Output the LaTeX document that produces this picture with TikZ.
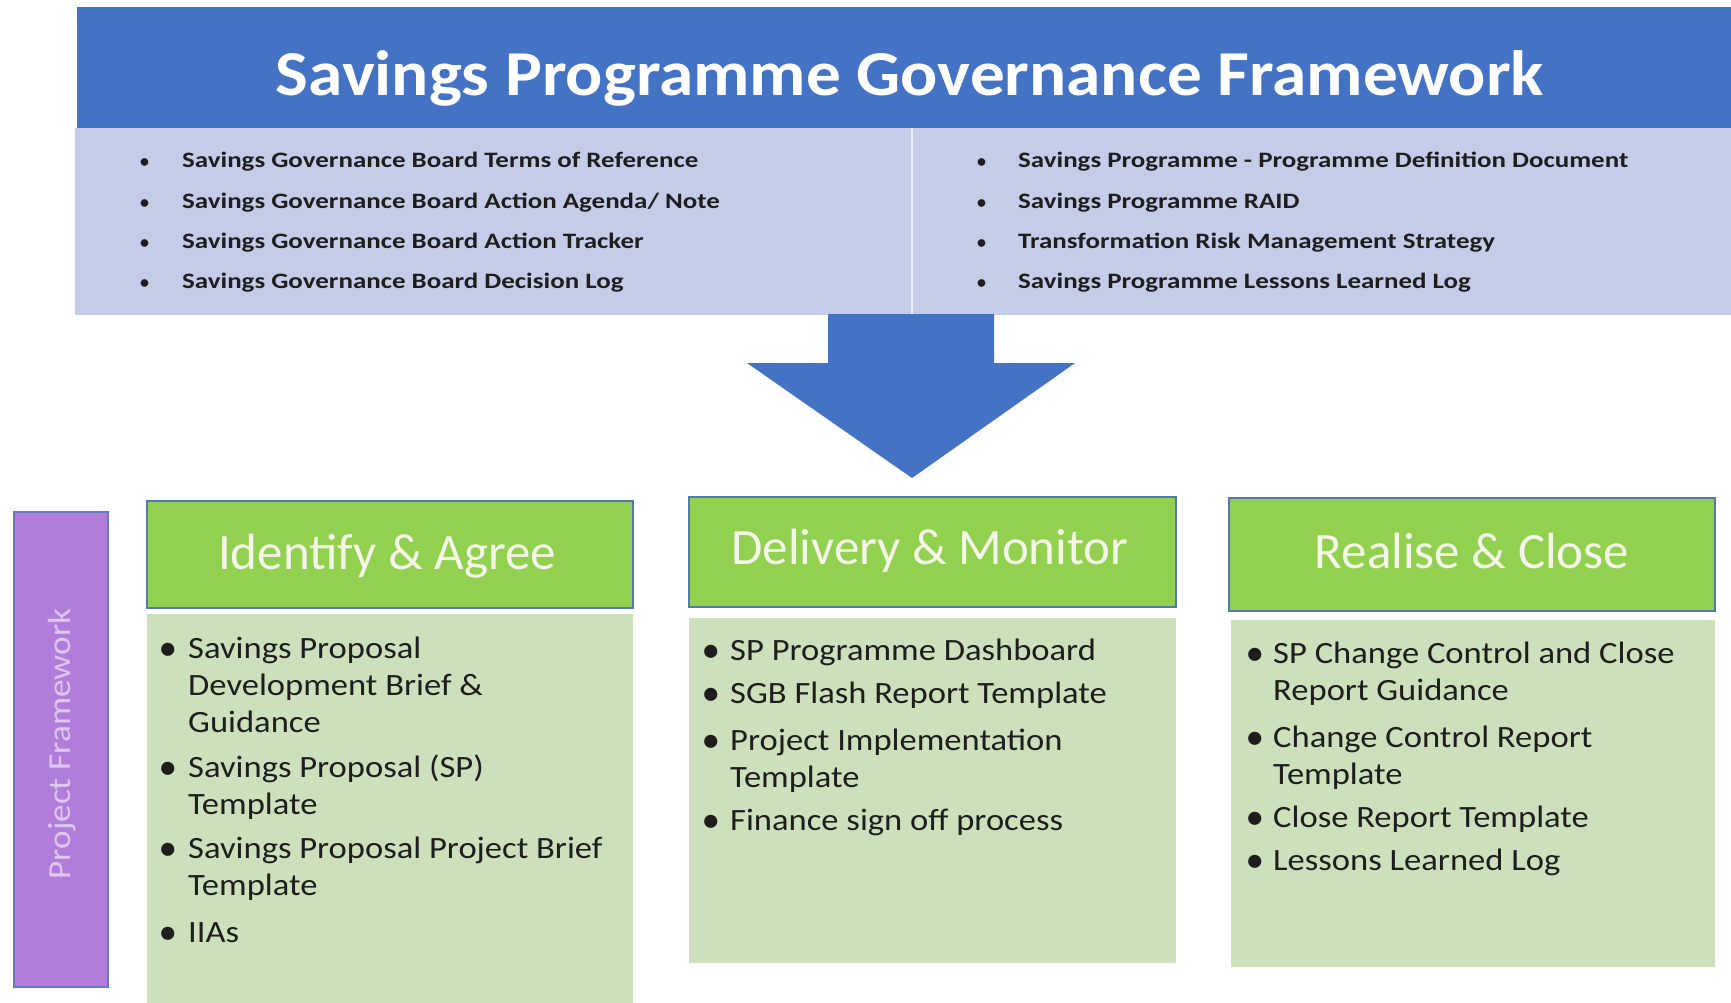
\documentclass[tikz,border=0pt]{standalone}
\usepackage{fontspec}
\setmainfont{Carlito}
\usepackage{graphicx}
\definecolor{barblue}{RGB}{68,114,196}
\definecolor{panel}{RGB}{196,204,232}
\definecolor{hdrgreen}{RGB}{146,208,80}
\definecolor{bodygreen}{RGB}{204,225,187}
\definecolor{edgeblue}{RGB}{84,120,176}
\definecolor{purplefill}{RGB}{176,126,218}
\definecolor{purpletext}{RGB}{222,200,242}
\definecolor{hdrtext}{RGB}{244,247,232}
\definecolor{txtdark}{RGB}{30,30,30}
\newcommand\sxb[2]{\scalebox{#1}[1]{#2}}
\newcommand\topitem[5]{%
  \node[topbul] (#1b) at (#2,#4) {•};
  \node[toptxt] (#1) at (#3,#4) {\sxb{1.225}{#5}};}
\newcommand\bodyitem[5]{%
  \node[bodybul] (#1b) at (#2,#4) {•};
  \node[bodytxt] (#1) at (#3,#4) {\sxb{1.115}{\parbox[t]{420pt}{\raggedright #5}}};}
\begin{document}
\begin{tikzpicture}[x=1pt,y=-1pt,
  topbul/.style={anchor=base west,inner sep=0pt,font=\fontsize{18}{22}\selectfont\bfseries,text=txtdark},
  toptxt/.style={anchor=base west,inner sep=0pt,font=\fontsize{22}{26}\selectfont\bfseries,text=txtdark},
  bodybul/.style={anchor=base west,inner sep=0pt,font=\fontsize{31}{37}\selectfont\bfseries,text=txtdark},
  bodytxt/.style={anchor=base west,inner sep=0pt,font=\fontsize{31}{37}\selectfont,text=txtdark},
  hdrbox/.style={fill=hdrgreen,draw=edgeblue,line width=2pt},
  hdrtxt/.style={anchor=base,inner sep=0pt,font=\fontsize{51}{60}\selectfont,text=hdrtext},
  bodybox/.style={fill=bodygreen}]
\useasboundingbox (0,0) rectangle (1731,1003);
\fill[white] (0,0) rectangle (1731,1003);
% title bar and panel
\fill[barblue] (77,7) rectangle (1731,128);
\fill[panel] (75,128) rectangle (1731,315);
\draw[white!70!panel,line width=2pt] (912,128) -- (912,315);
\node[anchor=base,inner sep=0pt,text=white,font=\fontsize{64}{72}\selectfont\bfseries] (title) at (910,96)
  {\sxb{1.083}{Savings Programme Governance Framework}};
% top lists
\topitem{l1}{140}{182}{168}{Savings Governance Board Terms of Reference}
\topitem{l2}{140}{182}{208}{Savings Governance Board Action Agenda/ Note}
\topitem{l3}{140}{182}{248}{Savings Governance Board Action Tracker}
\topitem{l4}{140}{182}{288}{Savings Governance Board Decision Log}
\topitem{r1}{977}{1018}{168}{Savings Programme - Programme Definition Document}
\topitem{r2}{977}{1018}{208}{Savings Programme RAID}
\topitem{r3}{977}{1018}{248}{Transformation Risk Management Strategy}
\topitem{r4}{977}{1018}{288}{Savings Programme Lessons Learned Log}
% arrow
\fill[barblue] (828,314) -- (994,314) -- (994,363) -- (1075,363) -- (912,478) -- (747,363) -- (828,363) -- cycle;
% purple label
\fill[purplefill] (14,512) rectangle (108,987);
\draw[edgeblue!80!purplefill,line width=2pt] (14,512) rectangle (108,987);
\node[rotate=90,inner sep=0pt,text=purpletext,font=\fontsize{32}{38}\selectfont] (pf) at (62,744) {\sxb{1.1}{Project Framework}};
% headers
\filldraw[hdrbox] (147,501) rectangle (633,608);
\filldraw[hdrbox] (689,497) rectangle (1176,607);
\filldraw[hdrbox] (1229,498) rectangle (1715,611);
\node[hdrtxt] (h1) at (387,569) {Identify \& Agree};
\node[hdrtxt] (h2) at (930,564) {Delivery \& Monitor};
\node[hdrtxt] (h3) at (1472,568) {Realise \& Close};
% bodies
\fill[bodybox] (147,614) rectangle (633,1010);
\fill[bodybox] (689,618) rectangle (1176,963);
\fill[bodybox] (1231,620) rectangle (1715,967);
\bodyitem{a1}{160}{188}{658}{Savings Proposal\\Development Brief \&\\Guidance}
\bodyitem{a2}{160}{188}{777}{Savings Proposal (SP)\\Template}
\bodyitem{a3}{160}{188}{858}{Savings Proposal Project Brief\\Template}
\bodyitem{a4}{160}{188}{942}{IIAs}
\bodyitem{d1}{703}{730}{660}{SP Programme Dashboard}
\bodyitem{d2}{703}{730}{703}{SGB Flash Report Template}
\bodyitem{d3}{703}{730}{750}{Project Implementation\\Template}
\bodyitem{d4}{703}{730}{830}{Finance sign off process}
\bodyitem{c1}{1247}{1273}{663}{SP Change Control and Close\\Report Guidance}
\bodyitem{c2}{1247}{1273}{747}{Change Control Report\\Template}
\bodyitem{c3}{1247}{1273}{827}{Close Report Template}
\bodyitem{c4}{1247}{1273}{870}{Lessons Learned Log}
\end{tikzpicture}
\end{document}
